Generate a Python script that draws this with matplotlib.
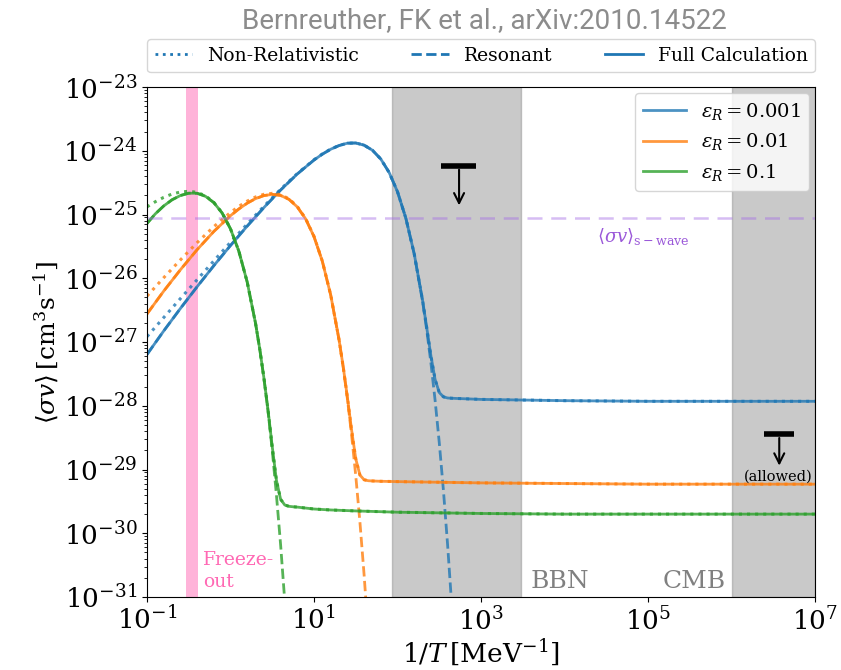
import numpy as np
import matplotlib
matplotlib.use("Agg")
import matplotlib.pyplot as plt
from matplotlib.lines import Line2D

plt.rcParams["font.family"] = "DejaVu Serif"
plt.rcParams["mathtext.fontset"] = "dejavuserif"

# log10(1/T [MeV^-1]) sample points and log10(<sigma v>)
blue_logx = [-1.0, -0.8, -0.6, -0.4, -0.2, 0.0, 0.2, 0.4, 0.6, 0.8, 1.0, 1.1, 1.2, 1.3,
             1.4, 1.5, 1.6, 1.7, 1.8, 1.9, 2.0, 2.1, 2.2, 2.3, 2.35, 2.4, 2.45, 2.5, 2.55,
             2.6, 2.65, 2.7, 2.8, 3.0, 3.5, 4.0, 5.0, 6.0, 7.0]
blue_full = [-27.195, -26.826, -26.473, -26.132, -25.802, -25.485, -25.181, -24.890, -24.615,
             -24.363, -24.144, -24.052, -23.975, -23.917, -23.880, -23.877, -23.911, -23.991,
             -24.129, -24.340, -24.642, -25.058, -25.615, -26.345, -26.774, -27.215, -27.587,
             -27.792, -27.860, -27.878, -27.882, -27.885, -27.890, -27.900, -27.910, -27.920,
             -27.930, -27.930, -27.930]
blue_nonrel = [-26.915, -26.616, -26.318, -26.022, -25.727, -25.435, -25.149, -24.870, -24.603,
               -24.356, -24.140, -24.049, -23.973, -23.916, -23.880, -23.877, -23.911, -23.991,
               -24.129, -24.340, -24.642, -25.058, -25.615, -26.345, -26.774, -27.215, -27.587,
               -27.792, -27.860, -27.878, -27.882, -27.885, -27.890, -27.900, -27.910, -27.920,
               -27.930, -27.930, -27.930]
blue_res = [-27.195, -26.826, -26.473, -26.132, -25.802, -25.485, -25.181, -24.890, -24.615,
            -24.363, -24.144, -24.052, -23.975, -23.917, -23.880, -23.877, -23.911, -23.991,
            -24.129, -24.340, -24.642, -25.058, -25.618, -26.359, -26.811, -27.327, -27.912,
            -28.577, -29.329, -30.183, -31.146]

orange_logx = [-1.0, -0.8, -0.6, -0.4, -0.2, 0.0, 0.1, 0.2, 0.3, 0.4, 0.5, 0.6, 0.7, 0.8, 0.9,
               1.0, 1.1, 1.2, 1.3, 1.35, 1.4, 1.45, 1.5, 1.55, 1.6, 1.65, 1.7, 1.8, 2.0, 2.5,
               3.0, 4.0, 5.0, 6.0, 7.0]
orange_full = [-26.559, -26.201, -25.866, -25.551, -25.265, -25.017, -24.912, -24.821, -24.750,
               -24.702, -24.683, -24.700, -24.761, -24.880, -25.068, -25.346, -25.734, -26.262,
               -26.964, -27.391, -27.869, -28.379, -28.832, -29.087, -29.161, -29.176, -29.180,
               -29.185, -29.190, -29.200, -29.210, -29.220, -29.230, -29.230, -29.230]
orange_nonrel = [-26.279, -25.991, -25.711, -25.441, -25.190, -24.967, -24.871, -24.789, -24.724,
                 -24.682, -24.667, -24.688, -24.752, -24.873, -25.063, -25.342, -25.731, -26.261,
                 -26.964, -27.391, -27.869, -28.379, -28.832, -29.087, -29.161, -29.176, -29.180,
                 -29.185, -29.190, -29.200, -29.210, -29.220, -29.230, -29.230, -29.230]
orange_res = [-26.559, -26.201, -25.866, -25.551, -25.265, -25.017, -24.912, -24.821, -24.750,
              -24.702, -24.683, -24.700, -24.761, -24.880, -25.068, -25.346, -25.734, -26.263,
              -26.967, -27.398, -27.892, -28.456, -29.098, -29.827, -30.654, -31.591]

green_logx = [-1.0, -0.9, -0.8, -0.7, -0.6, -0.5, -0.4, -0.3, -0.2, -0.1, 0.0, 0.1, 0.2, 0.3,
              0.35, 0.4, 0.45, 0.5, 0.55, 0.6, 0.65, 0.7, 0.75, 0.8, 0.9, 1.0, 1.2, 1.5, 2.0,
              2.5, 3.0, 4.0, 5.0, 6.0, 7.0]
green_full = [-25.139, -24.988, -24.865, -24.768, -24.701, -24.665, -24.666, -24.713, -24.812,
              -24.976, -25.224, -25.575, -26.059, -26.708, -27.108, -27.563, -28.075, -28.643,
              -29.170, -29.467, -29.557, -29.578, -29.585, -29.590, -29.605, -29.620, -29.635,
              -29.650, -29.670, -29.680, -29.690, -29.700, -29.700, -29.700, -29.700]
green_nonrel = [-24.879, -24.798, -24.730, -24.678, -24.646, -24.635, -24.651, -24.705, -24.808,
                -24.974, -25.224, -25.575, -26.059, -26.708, -27.108, -27.563, -28.075, -28.643,
                -29.170, -29.467, -29.557, -29.578, -29.585, -29.590, -29.605, -29.620, -29.635,
                -29.650, -29.670, -29.680, -29.690, -29.700, -29.700, -29.700, -29.700]
green_res = [-25.139, -24.988, -24.865, -24.768, -24.701, -24.665, -24.666, -24.713, -24.812,
             -24.976, -25.224, -25.575, -26.059, -26.708, -27.108, -27.567, -28.090, -28.700,
             -29.400, -30.180, -31.070, -32.000]

eps_labels = ["0.001", "0.01", "0.1"]
colors = ["#1f77b4", "#ff7f0e", "#2ca02c"]

sv_swave = 8.9e-26
freezeout = (0.29, 0.41)
bbn = (86.0, 3000.0)
cmb = (1.0e6, 1.0e7)

fig = plt.figure(figsize=(8.41, 6.70), dpi=100)
ax = fig.add_axes([0.1748, 0.109, 0.7943, 0.761])
ax.set_xscale("log")
ax.set_yscale("log")

ax.axvspan(*bbn, color="gray", alpha=0.42, zorder=0)
ax.axvspan(*cmb, color="gray", alpha=0.42, zorder=0)
ax.axvspan(*freezeout, color="hotpink", alpha=0.5, lw=0, zorder=1)

curves = [(blue_logx, blue_full, blue_nonrel, blue_res),
          (orange_logx, orange_full, orange_nonrel, orange_res),
          (green_logx, green_full, green_nonrel, green_res)]
handles = []
for (lx, full, nonrel, res), c, e in zip(curves, colors, eps_labels):
    x = 10.0 ** np.array(lx)
    h, = ax.plot(x, 10.0 ** np.array(full), color=c, lw=2, alpha=0.8,
                 label=r"$\varepsilon_R = %s$" % e)
    ax.plot(x, 10.0 ** np.array(nonrel), ":", color=c, lw=2.2, alpha=0.8)
    ax.plot(x[:len(res)], 10.0 ** np.array(res), "--", color=c, lw=2, alpha=0.8)
    handles.append(h)

ax.axhline(sv_swave, color="#a56de6", alpha=0.45, lw=1.8, ls=(0, (6, 3.5)))
ax.text(8.7e4, 4.6e-26, r"$\langle\sigma v\rangle_{\rm s-wave}$", color="#9b59d9",
        fontsize=13, ha="center", va="center")

# upper limits
ax.plot([336, 883], [5.83e-25, 5.83e-25], color="black", lw=4, solid_capstyle="butt")
ax.annotate("", xy=(546, 1.26e-25), xytext=(546, 5.6e-25),
            arrowprops=dict(arrowstyle="->", color="black", lw=1.5, mutation_scale=18))
ax.plot([2.45e6, 5.65e6], [3.6e-29, 3.6e-29], color="black", lw=4, solid_capstyle="butt")
ax.annotate("", xy=(3.73e6, 1.04e-29), xytext=(3.73e6, 3.45e-29),
            arrowprops=dict(arrowstyle="->", color="black", lw=1.5, mutation_scale=18))
ax.text(3.6e6, 7.6e-30, "(allowed)", fontsize=10.5, ha="center", va="center")

ax.text(0.47, 1.25e-31, "Freeze-\nout", color="hotpink", fontsize=13.5, ha="left",
        va="bottom", linespacing=1.3)
ax.text(3.9e3, 1.15e-31, "BBN", color="gray", fontsize=18, ha="left", va="bottom")
ax.text(1.5e5, 1.15e-31, "CMB", color="gray", fontsize=18, ha="left", va="bottom")

ax.set_xlim(1e-1, 1e7)
ax.set_ylim(1e-31, 1e-23)
ax.set_xticks([1e-1, 1e1, 1e3, 1e5, 1e7])
ax.xaxis.set_minor_locator(matplotlib.ticker.NullLocator())
ax.set_yticks([10.0 ** k for k in range(-31, -22)])
ax.yaxis.set_minor_locator(matplotlib.ticker.LogLocator(base=10, subs=np.arange(2, 10), numticks=20))
ax.yaxis.set_minor_formatter(matplotlib.ticker.NullFormatter())
ax.tick_params(labelsize=19)
ax.set_xlabel(r"$1/T\,[\mathrm{MeV}^{-1}]$", fontsize=19, labelpad=2)
ax.set_ylabel(r"$\langle\sigma v\rangle\,[\mathrm{cm}^3\mathrm{s}^{-1}]$", fontsize=18, labelpad=2)

leg1 = ax.legend(handles=handles, loc="upper right", fontsize=14, handlelength=2.2,
                 borderaxespad=0.3)
ax.add_artist(leg1)
style_handles = [Line2D([], [], color=colors[0], ls=":", lw=2),
                 Line2D([], [], color=colors[0], ls="--", lw=2),
                 Line2D([], [], color=colors[0], ls="-", lw=2)]
ax.legend(handles=style_handles, labels=["Non-Relativistic", "Resonant", "Full Calculation"],
          loc="lower left", bbox_to_anchor=(0, 1.029, 1, 0.063), mode="expand", ncol=3,
          borderaxespad=0, fontsize=13.5, handlelength=2)

fig.text(0.576, 0.99, "Bernreuther, FK et al., arXiv:2010.14522", color="#8c8c8c",
         fontsize=20, family="Roboto", ha="center", va="top")

fig.savefig("out.png", dpi=100)
